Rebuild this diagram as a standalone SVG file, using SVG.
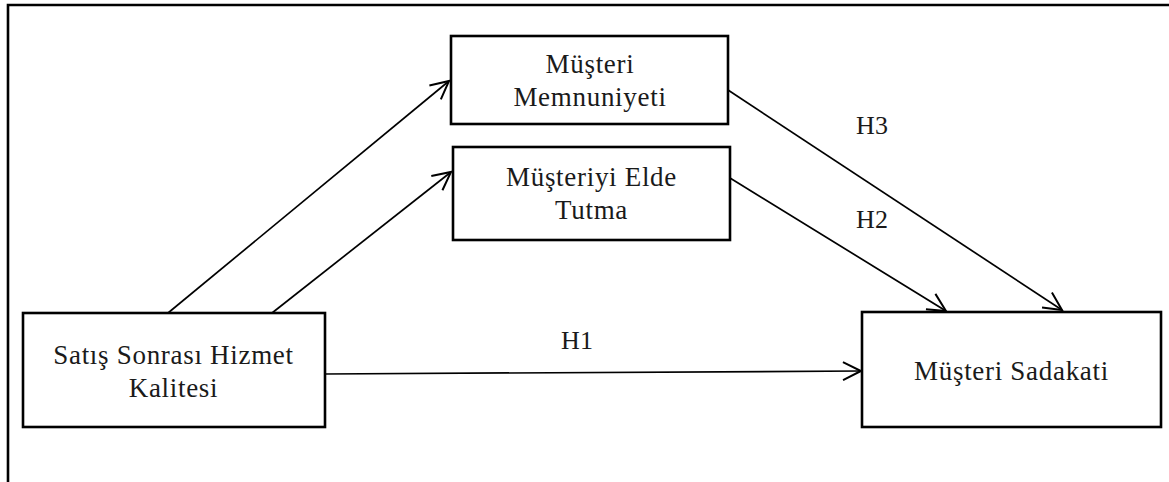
<svg xmlns="http://www.w3.org/2000/svg" width="1169" height="482" viewBox="0 0 1169 482">
  <style>
    .box { fill: #ffffff; stroke: #000000; stroke-width: 2.6; }
    .lbl { font-family: "Liberation Serif", "DejaVu Serif", serif; font-size: 27px; letter-spacing: 0.7px; fill: #1a1a1a; text-anchor: middle; }
    .h { font-family: "Liberation Serif", serif; font-size: 26px; fill: #1a1a1a; text-anchor: middle; }
    .edge { fill: none; stroke: #000000; stroke-width: 1.7; marker-end: url(#arr); }
  </style>
  <defs>
    <marker id="arr" markerUnits="userSpaceOnUse" markerWidth="24" markerHeight="24" refX="20" refY="10" orient="auto" viewBox="0 0 24 20">
      <path d="M2,1 L20,10 L2,19" fill="none" stroke="#000000" stroke-width="2"/>
    </marker>
  </defs>
  <rect width="1169" height="482" fill="#ffffff"/>
  <g id="frame">
    <path d="M8,482 L8,5 L1169,5" fill="none" stroke="#000000" stroke-width="2.6"/>
  </g>
  <g id="connectors">
    <line class="edge" x1="168" y1="313" x2="449" y2="81"/>
    <line class="edge" x1="272" y1="313" x2="451" y2="172"/>
    <line class="edge" x1="325" y1="374" x2="861" y2="371"/>
    <line class="edge" x1="730" y1="178" x2="946" y2="311"/>
    <line class="edge" x1="728" y1="90" x2="1062" y2="310"/>
    <text class="h" x="872" y="134">H3</text>
    <text class="h" x="872" y="228">H2</text>
    <text class="h" x="577" y="349">H1</text>
  </g>
  <g id="memnuniyet">
    <rect class="box" x="451" y="36" width="277" height="88"/>
    <text class="lbl" x="590" y="73">Müşteri</text>
    <text class="lbl" x="590" y="106">Memnuniyeti</text>
  </g>
  <g id="eldetutma">
    <rect class="box" x="453" y="147" width="277" height="93"/>
    <text class="lbl" x="591.5" y="186">Müşteriyi Elde</text>
    <text class="lbl" x="591.5" y="219">Tutma</text>
  </g>
  <g id="hizmetkalitesi">
    <rect class="box" x="23" y="313" width="302" height="114"/>
    <text class="lbl" x="173.5" y="364">Satış Sonrası Hizmet</text>
    <text class="lbl" x="173.5" y="397">Kalitesi</text>
  </g>
  <g id="sadakat">
    <rect class="box" x="862" y="312" width="299" height="115"/>
    <text class="lbl" x="1011.5" y="380">Müşteri Sadakati</text>
  </g>
</svg>
